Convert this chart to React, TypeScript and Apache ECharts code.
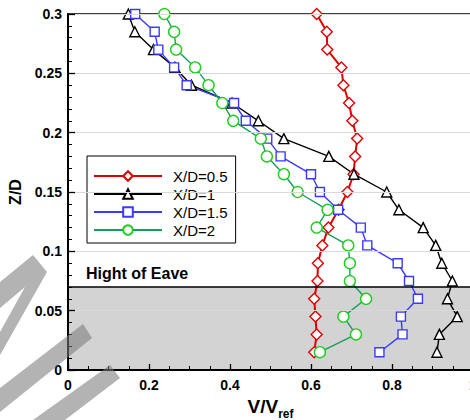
import React, { useEffect, useRef } from "react";
import * as echarts from "echarts";

// Heights Z/D at which the profiles were measured (top to bottom)
const zLevels = [0.3, 0.285, 0.27, 0.255, 0.24, 0.225, 0.21, 0.195, 0.18, 0.165, 0.15, 0.135, 0.12, 0.105, 0.09, 0.075, 0.06, 0.045, 0.03, 0.015];

// V/Vref values per station
const xd05 = [0.614, 0.639, 0.64, 0.675, 0.68, 0.694, 0.702, 0.714, 0.709, 0.705, 0.69, 0.668, 0.643, 0.628, 0.617, 0.616, 0.608, 0.611, 0.614, 0.608];
const xd1 = [0.149, 0.165, 0.211, 0.264, 0.305, 0.405, 0.47, 0.533, 0.644, 0.706, 0.787, 0.817, 0.877, 0.908, 0.923, 0.949, 0.937, 0.961, 0.917, 0.911];
const xd15 = [0.166, 0.214, 0.223, 0.262, 0.293, 0.41, 0.439, 0.492, 0.525, 0.6, 0.622, 0.667, 0.723, 0.739, 0.814, 0.842, 0.864, 0.822, 0.826, 0.769];
const xd2 = [0.238, 0.262, 0.267, 0.314, 0.347, 0.381, 0.408, 0.476, 0.491, 0.533, 0.567, 0.641, 0.614, 0.692, 0.696, 0.696, 0.736, 0.68, 0.711, 0.622];

const seriesNames = ["X/D=0.5", "X/D=1", "X/D=1.5", "X/D=2"];
const eaveHeight = 0.07;
const eaveLabel = "Hight of Eave";

const FONT = "'Liberation Sans', Arial, Helvetica, sans-serif";

function pairs(vals: number[]) {
  return vals.map((v, i) => [v, zLevels[i]]);
}

export default function App() {
  const ref = useRef<HTMLDivElement>(null);
  useEffect(() => {
    if (!ref.current) return;
    const chart = echarts.init(ref.current, null, { renderer: "svg" });
    const mk = (
      name: string,
      vals: number[],
      line: string,
      mark: string,
      symbol: string,
      size: number,
      lw: number
    ) => ({
      type: "line",
      name,
      data: pairs(vals),
      z: 3,
      symbol,
      symbolSize: size,
      showAllSymbol: true,
      lineStyle: { color: line, width: lw },
      itemStyle: { color: "#ffffff", borderColor: mark, borderWidth: 1.4 },
    });
    const wm = "rgba(121,121,121,0.57)";
    const band = (pts: number[][]) => ({
      type: "polygon",
      z: 100,
      silent: true,
      shape: { points: pts },
      style: { fill: wm, stroke: "none" },
    });
    chart.setOption({
      animation: false,
      textStyle: { fontFamily: FONT },
      grid: {
        left: 68,
        top: 14,
        right: -3,
        bottom: 50,
        containLabel: false,
        outerBoundsMode: "none",
        show: true,
        borderColor: "#000",
        borderWidth: 1.5,
        backgroundColor: "transparent",
      },
      legend: {
        data: seriesNames,
        orient: "vertical",
        left: 87,
        top: 156,
        backgroundColor: "#fff",
        borderColor: "#000",
        borderWidth: 1,
        padding: [12, 8, 5, 6],
        itemWidth: 68,
        itemHeight: 12,
        itemGap: 2,
        textStyle: {
          fontFamily: FONT,
          fontSize: 15,
          color: "#000",
          lineHeight: 16,
          padding: [0, 0, 0, 6],
        },
      },
      xAxis: {
        type: "value",
        min: 0,
        max: 1,
        interval: 0.2,
        z: 10,
        name: "{a|V/V}{b|ref}",
        nameLocation: "middle",
        nameGap: 25,
        nameTextStyle: {
          rich: {
            a: { fontFamily: FONT, fontSize: 19, fontWeight: "bold", color: "#000", lineHeight: 21 },
            b: { fontFamily: FONT, fontSize: 12, fontWeight: "bold", color: "#000", lineHeight: 12, verticalAlign: "bottom", padding: [0, 0, -3, 0] },
          },
        },
        axisLine: { lineStyle: { color: "#000", width: 2 } },
        axisTick: { inside: true, length: 6, lineStyle: { color: "#000", width: 1.3 } },
        minorTick: { show: true, splitNumber: 4, length: 4, lineStyle: { color: "#000", width: 1 } },
        splitLine: { show: false },
        axisLabel: { fontFamily: FONT, fontSize: 14, fontWeight: "bold", color: "#000", margin: 8 },
      },
      yAxis: {
        type: "value",
        min: 0,
        max: 0.3,
        interval: 0.05,
        z: 10,
        name: "Z/D",
        nameLocation: "middle",
        nameGap: 42,
        nameTextStyle: { fontFamily: FONT, fontSize: 16, fontWeight: "bold", color: "#000" },
        axisLine: { lineStyle: { color: "#000", width: 2 } },
        axisTick: { inside: true, length: 7, lineStyle: { color: "#000", width: 1.3 } },
        minorTick: { show: true, splitNumber: 5, length: 4, lineStyle: { color: "#000", width: 1 } },
        splitLine: { show: true, lineStyle: { color: "#d9d9d9", width: 1 } },
        axisLabel: { fontFamily: FONT, fontSize: 14, fontWeight: "bold", color: "#000", margin: 6 },
      },
      series: [
        {
          type: "line",
          name: "eave",
          data: [],
          z: 1,
          markArea: {
            silent: true,
            itemStyle: { color: "#d3d3d3" },
            data: [[{ yAxis: 0 }, { yAxis: eaveHeight }]],
          },
          markLine: {
            silent: true,
            symbol: "none",
            lineStyle: { color: "#000", width: 1.5, type: "solid" },
            label: {
              show: true,
              position: "insideStartTop",
              formatter: eaveLabel,
              fontFamily: FONT,
              fontSize: 16,
              fontWeight: "bold",
              color: "#000",
              distance: [18, 5],
            },
            data: [{ yAxis: eaveHeight }],
          },
        },
        mk(seriesNames[0], xd05, "#dd0000", "#e00000", "diamond", 11, 2),
        mk(seriesNames[1], xd1, "#000000", "#000000", "triangle", 10, 1.4),
        mk(seriesNames[2], xd15, "#3a3aff", "#3a3aff", "rect", 9, 1.4),
        mk(seriesNames[3], xd2, "#14a05a", "#1fcc1f", "circle", 11, 1.4),
      ],
      graphic: [
        band([[0, 282], [33, 255], [47, 272], [0, 355], [0, 332], [25, 287], [0, 308]]),
        band([[0, 388], [83, 324], [92, 338], [0, 412]]),
        band([[33, 420], [110, 365], [120, 378], [65, 420]]),
      ],
    });
    return () => chart.dispose();
  }, []);
  return (
    <div
      ref={ref}
      style={{ position: "absolute", left: 0, top: 0, width: 470, height: 420 }}
    />
  );
}
